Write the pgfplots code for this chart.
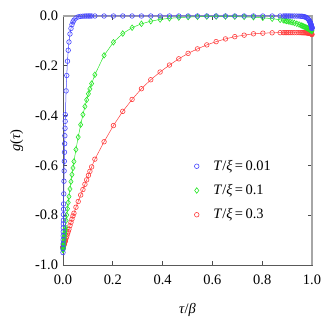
\documentclass[border=0pt]{standalone}
\usepackage{fontspec}
\setmainfont{Liberation Serif}
\usepackage{pgfplots}
\pgfplotsset{compat=1.18}

\definecolor{cblue}{RGB}{70,70,255}
\definecolor{cgreen}{RGB}{40,230,40}
\definecolor{cred}{RGB}{255,60,60}

\begin{document}
\fontsize{14.5}{17}\selectfont
\begin{tikzpicture}
\begin{axis}[
  scale only axis,
  width=249bp, height=249bp,
  xmin=0, xmax=1, ymin=-1, ymax=0,
  xtick={0,0.2,0.4,0.6,0.8,1.0},
  ytick={-1,-0.8,-0.6,-0.4,-0.2,0},
  tick align=inside,
  major tick length=4bp,
  tick style={black!70, line width=0.6bp},
  axis line style={black!65, line width=0.6bp},
  /pgf/number format/assume math mode=true,
  /pgf/number format/.cd, fixed, fixed zerofill, precision=1, /pgfplots/.cd,
  ticklabel style={font=\fontsize{14.5}{17}\selectfont},
  xticklabel style={yshift=-5bp},
  xlabel={\textit{τ}/\textit{β}},
  ylabel={\textit{g}(\textit{τ})},
  xlabel style={yshift=-9bp},
  ylabel style={yshift=2bp},
  label style={font=\fontsize{14.5}{17}\selectfont},
  clip=false,
  reverse legend,
  legend style={at={(axis cs:0.525,-0.57)}, anchor=north west, draw=none, fill=none,
    font=\fontsize{14.5}{17}\selectfont, row sep=8bp, inner sep=0pt},
  legend cell align=left,
  legend image code/.code={%
    \path[draw=none, fill=none] (0cm,0cm) -- (0.62cm,0cm);
    \draw[#1,/tikz/only marks] plot coordinates {(0.1cm,0cm)};},
]
\draw[black!35, line width=1.5bp] (rel axis cs:0,1) -- (rel axis cs:1,1) -- (rel axis cs:1,0);

% T/xi = 0.3
\addplot[cred, line width=0.5bp, mark=o, mark size=2.3bp, mark options={cred, line width=0.6bp}] coordinates {
(0,-0.93) (0.0002,-0.9294) (0.0004,-0.9288) (0.0006,-0.9281) (0.0008,-0.9275) (0.001,-0.9269)
(0.0012,-0.9263) (0.0014,-0.9257) (0.0016,-0.9250) (0.0019,-0.9241) (0.0022,-0.9232) (0.0025,-0.9223)
(0.0031,-0.9204) (0.0039,-0.9179) (0.0046,-0.9157) (0.0053,-0.9136) (0.006,-0.9114) (0.0067,-0.9092)
(0.0074,-0.9071) (0.0081,-0.9049) (0.0088,-0.9027) (0.0095,-0.9005)
(0.0125,-0.892) (0.015,-0.885) (0.018,-0.875) (0.021,-0.866) (0.024,-0.856) (0.028,-0.842)
(0.032,-0.829) (0.036,-0.816) (0.04,-0.803) (0.044,-0.792) (0.052,-0.768) (0.061,-0.745)
(0.071,-0.719) (0.08,-0.697) (0.088,-0.676) (0.095,-0.658) (0.102,-0.640) (0.108,-0.624)
(0.115,-0.606) (0.128,-0.575)
(0.165,-0.505) (0.2025,-0.440) (0.24,-0.383) (0.2775,-0.335) (0.315,-0.292) (0.3525,-0.256)
(0.39,-0.225) (0.4275,-0.197) (0.465,-0.172) (0.5025,-0.150) (0.54,-0.132) (0.5775,-0.116)
(0.615,-0.103) (0.6525,-0.092) (0.69,-0.083) (0.7275,-0.077) (0.765,-0.0715) (0.8025,-0.069)
(0.84,-0.0675)
(0.872,-0.067) (0.885,-0.0668) (0.892,-0.0668) (0.898,-0.0668) (0.905,-0.0668) (0.912,-0.0668)
(0.92,-0.0668) (0.929,-0.0668) (0.939,-0.0668) (0.948,-0.0668) (0.956,-0.0669) (0.96,-0.067)
(0.964,-0.067) (0.968,-0.0671) (0.972,-0.0673) (0.976,-0.0675) (0.979,-0.0678) (0.982,-0.0682)
(0.985,-0.0687) (0.9875,-0.0692) (0.9905,-0.0699) (0.9933,-0.0706) (0.9961,-0.0716)
(0.9978,-0.0726) (0.999,-0.0733) (1,-0.074)
};
\addlegendentry{\textit{T}/\textit{ξ}\,=\,0.3}

% T/xi = 0.1
\addplot[cgreen, line width=0.5bp, mark=diamond, mark size=2.8bp, mark options={cgreen, line width=0.6bp}] coordinates {
(0,-0.94) (0.0002,-0.9380) (0.0004,-0.9359) (0.0006,-0.9339) (0.0008,-0.9319) (0.001,-0.9299)
(0.0012,-0.9279) (0.0014,-0.9259) (0.0016,-0.9239) (0.0019,-0.9209) (0.0022,-0.9179) (0.0025,-0.9150)
(0.0031,-0.9091) (0.0039,-0.9012) (0.0046,-0.8944) (0.0053,-0.8877) (0.006,-0.8810) (0.0067,-0.8744)
(0.0074,-0.8678) (0.0081,-0.8613) (0.0088,-0.8548) (0.0095,-0.8483)
(0.0125,-0.8213) (0.015,-0.7994) (0.018,-0.7739) (0.021,-0.7493) (0.024,-0.7254) (0.028,-0.6947)
(0.032,-0.6653) (0.036,-0.6372) (0.04,-0.6103) (0.044,-0.5844) (0.052,-0.5361) (0.061,-0.4864)
(0.071,-0.4366) (0.08,-0.3962) (0.088,-0.3634) (0.095,-0.3369) (0.102,-0.3124) (0.108,-0.2928)
(0.115,-0.2715) (0.128,-0.2359)
(0.165,-0.1582) (0.2025,-0.1055) (0.24,-0.0704) (0.2775,-0.0469) (0.315,-0.0313) (0.3525,-0.0209)
(0.39,-0.0139) (0.4275,-0.0093) (0.465,-0.0062) (0.5025,-0.0044) (0.54,-0.0032) (0.5775,-0.0024)
(0.615,-0.0021) (0.6525,-0.0022) (0.69,-0.0026) (0.7275,-0.0036) (0.765,-0.0049) (0.8025,-0.0072)
(0.84,-0.0107)
(0.872,-0.0152) (0.885,-0.0173) (0.892,-0.0187) (0.898,-0.0199) (0.905,-0.0215) (0.912,-0.0232)
(0.92,-0.0253) (0.929,-0.0279) (0.939,-0.0310) (0.948,-0.0342) (0.956,-0.0373) (0.96,-0.0390)
(0.964,-0.0407) (0.968,-0.0425) (0.972,-0.0443) (0.976,-0.0463) (0.979,-0.0478) (0.982,-0.0494)
(0.985,-0.0510) (0.9875,-0.0524) (0.9905,-0.0541) (0.9919,-0.0550) (0.9933,-0.0558)
(0.9947,-0.0566) (0.9961,-0.0575) (0.9975,-0.0584) (0.9984,-0.0590) (0.9992,-0.0595) (1,-0.06)
};
\addlegendentry{\textit{T}/\textit{ξ}\,=\,0.1}

% T/xi = 0.01
\addplot[cblue, line width=0.5bp, mark=o, mark size=2.3bp, mark options={cblue, line width=0.6bp}] coordinates {
(0,-0.950) (0.0002,-0.9327) (0.0004,-0.9157) (0.0006,-0.8990) (0.0008,-0.8826) (0.001,-0.8665)
(0.0012,-0.8507) (0.0014,-0.8352) (0.0016,-0.8200) (0.0019,-0.7976) (0.0022,-0.7759) (0.0025,-0.7548)
(0.0031,-0.7143) (0.0039,-0.6636) (0.0046,-0.6222) (0.0053,-0.5834) (0.006,-0.5470) (0.0067,-0.5129)
(0.0074,-0.4809) (0.0081,-0.4509) (0.0088,-0.4228) (0.0095,-0.3964)
(0.0125,-0.3008) (0.015,-0.2390) (0.018,-0.1814) (0.021,-0.1376) (0.024,-0.1044) (0.028,-0.0723)
(0.032,-0.0500) (0.036,-0.0346) (0.04,-0.0240) (0.044,-0.0166) (0.052,-0.0079) (0.061,-0.0035)
(0.071,-0.0014) (0.08,-0.0006) (0.088,-0.0003) (0.095,-0.0001) (0.102,0) (0.108,0)
(0.115,0) (0.128,0)
(0.165,0) (0.2025,0) (0.24,0) (0.2775,0) (0.315,0) (0.3525,0) (0.39,0) (0.4275,0) (0.465,0)
(0.5025,0) (0.54,0) (0.5775,0) (0.615,0) (0.6525,0) (0.69,0) (0.7275,0) (0.765,0) (0.8025,0)
(0.84,0)
(0.872,0) (0.885,0) (0.892,0) (0.898,0) (0.905,0) (0.912,0) (0.92,0) (0.929,-0.0001)
(0.939,-0.0002) (0.948,-0.0004) (0.956,-0.0009) (0.96,-0.0013) (0.964,-0.0018) (0.968,-0.0026)
(0.972,-0.0038) (0.976,-0.0055) (0.979,-0.0072) (0.982,-0.0095) (0.985,-0.0126) (0.9875,-0.0158)
(0.9905,-0.0209) (0.9912,-0.0223) (0.9919,-0.0237) (0.9926,-0.0253) (0.9933,-0.0270)
(0.994,-0.0288) (0.9947,-0.0307) (0.9954,-0.0327) (0.9961,-0.0349) (0.9969,-0.0376)
(0.9975,-0.0397) (0.9978,-0.0408) (0.9981,-0.0420) (0.9984,-0.0432) (0.9986,-0.0440)
(0.9988,-0.0448) (0.999,-0.0456) (0.9992,-0.0465) (0.9994,-0.0473) (0.9996,-0.0482)
(0.9998,-0.0491) (1,-0.05)
};
\addlegendentry{\textit{T}/\textit{ξ}\,=\,0.01}
\end{axis}
\path ([shift={(-63bp,-62bp)}]current axis.south west) rectangle ([shift={(22bp,16bp)}]current axis.north east);
\end{tikzpicture}
\end{document}
